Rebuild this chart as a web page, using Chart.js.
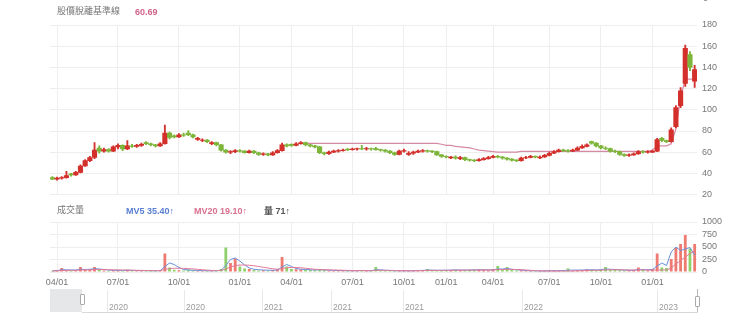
<!DOCTYPE html>
<html lang="zh-Hant">
<head>
<meta charset="utf-8">
<title>股價與成交量</title>
<script src="https://cdn.jsdelivr.net/npm/chart.js@4.4.1/dist/chart.umd.min.js"></script>
<style>
  html, body { margin: 0; padding: 0; background: #fff; }
  #wrap {
    position: relative; width: 740px; height: 323px; overflow: hidden;
    font-family: 'Liberation Sans', Arial, 'Noto Sans CJK TC', sans-serif;
  }
  canvas { position: absolute; left: 0; }
  #price { top: 0; }
  #volume { top: 210px; }
  .lbl { position: absolute; font-size: 9px; line-height: 10px; white-space: nowrap; }
  .cjk { font-family: 'Noto Sans CJK TC', sans-serif; color: #777; }
  .nav-shade { position: absolute; left: 50px; top: 289px; width: 32px; height: 23px; background: #e6e7e9; }
  .nav-base { position: absolute; left: 82px; top: 312px; width: 616px; height: 1px; background: #d8d8d8; }
  .nav-line { position: absolute; top: 290px; width: 1px; height: 22px; background: #e8e8e8; }
  .nav-year { position: absolute; top: 302px; font-size: 8.5px; line-height: 10px; color: #9a9a9a; }
  .handle { position: absolute; width: 3px; height: 9px; background: #fff; border: 1px solid #aaa; border-radius: 1px; }
</style>
</head>
<body>
<div id="wrap">
  <canvas id="price" width="740" height="205"></canvas>
  <canvas id="volume" width="740" height="80"></canvas>

  <div class="lbl" style="left:703px; top:-7px; color:#777;">0</div>
  <div class="lbl cjk" style="left:57px; top:6px;">股價脫離基準線</div>
  <div class="lbl" style="left:135px; top:7px; color:#d2648c; font-weight:bold;">60.69</div>

  <div class="lbl cjk" style="left:57px; top:205px;">成交量</div>
  <div class="lbl" style="left:126px; top:206px; color:#5a7fd2; font-weight:bold;">MV5 35.40↑</div>
  <div class="lbl" style="left:194px; top:206px; color:#d9708f; font-weight:bold;">MV20 19.10↑</div>
  <div class="lbl" style="left:264px; top:206px; color:#555; font-weight:bold;"><span class="cjk" style="color:#555;">量</span> 71↑</div>

  <div id="nav"></div>
</div>

<script>
// weekly bars, some weeks missing (no trading)
const dates = [
  '2020/03/25',
  '2020/04/01','2020/04/08','2020/04/15','2020/04/22','2020/04/29','2020/05/06','2020/05/13','2020/05/20','2020/05/27','2020/06/03','2020/06/10','2020/06/17','2020/06/24',
  '2020/07/01','2020/07/08','2020/07/15','2020/07/22','2020/07/29','2020/08/05','2020/08/12','2020/08/19','2020/08/26','2020/09/02','2020/09/09','2020/09/16','2020/09/23',
  '2020/10/01','2020/10/08','2020/10/15','2020/10/22','2020/10/29','2020/11/05','2020/11/12','2020/11/19','2020/11/26','2020/12/03','2020/12/10','2020/12/17','2020/12/24',
  '2021/01/01','2021/01/08','2021/01/15','2021/01/22','2021/01/29','2021/02/19','2021/02/26','2021/03/05','2021/03/12','2021/03/19','2021/03/26',
  '2021/04/01','2021/04/08','2021/04/15','2021/04/22','2021/04/29','2021/05/06','2021/05/13','2021/05/20','2021/05/27','2021/06/03','2021/06/10','2021/06/17','2021/06/24',
  '2021/07/01','2021/07/08','2021/07/15','2021/07/22','2021/07/29','2021/08/05','2021/08/12','2021/08/19','2021/08/26','2021/09/02','2021/09/23',
  '2021/10/01','2021/10/08','2021/10/15','2021/10/22','2021/11/19','2021/11/26','2021/12/03','2021/12/10','2021/12/17',
  '2022/01/01','2022/01/08','2022/01/15','2022/01/22','2022/02/12','2022/02/19','2022/02/26','2022/03/05','2022/03/12','2022/03/19',
  '2022/04/01','2022/04/08','2022/04/15','2022/04/22','2022/04/29','2022/05/06','2022/05/13','2022/05/20','2022/05/27','2022/06/03','2022/06/10','2022/06/17',
  '2022/07/01','2022/07/08','2022/07/15','2022/07/22','2022/07/29','2022/08/05','2022/08/12','2022/08/19','2022/08/26','2022/09/02','2022/09/09',
  '2022/10/01','2022/10/08','2022/10/15','2022/10/22','2022/10/29','2022/11/05','2022/11/12','2022/11/19','2022/11/26','2022/12/03','2022/12/10',
  '2023/01/01','2023/01/08','2023/01/15','2023/01/22','2023/01/29','2023/02/05','2023/02/12','2023/02/19','2023/02/26','2023/03/05'
];

const open = [
  36, 34.5, 35.5, 36, 39.5, 38.5, 41, 47, 52, 55,
  64, 61, 62.5, 61, 65, 66.5, 63, 66, 65.5, 66.5,
  69, 68, 67, 66, 68, 78, 75.5, 74.5, 76.5, 78,
  76.5, 72, 71, 71.5, 68, 69, 67, 62, 60, 60.5,
  61.5, 61, 59.5, 61, 59.5, 58, 58.5, 57.5, 59.5, 61.5,
  67, 67.5, 66.5, 68, 69, 67, 66, 65, 59.5, 58.5,
  60, 61, 61.5, 63, 62.5, 63, 63.5, 63, 63.5, 63.5,
  62.5, 62, 61, 59.5, 58, 61, 58, 59, 60, 61,
  61.5, 61, 60.5, 57.5, 56, 54.5, 55.5, 54, 55, 53,
  52.5, 52, 53, 54, 55, 56, 55.5, 54.5, 53.5, 52.5,
  52, 54.5, 55, 56, 54.5, 55.5, 57, 59, 60.5, 62,
  61.5, 61, 62, 64, 65.5, 70, 68.5, 66, 64, 63.5,
  61, 60.5, 58, 57, 57.5, 58.5, 60.5, 60, 60, 61,
  73, 71, 70, 84, 104, 125, 152, 127
];
const high = [
  37, 36.5, 37, 42, 40, 42, 48, 53, 56, 69,
  66, 64, 63.5, 66, 68, 67, 71, 67.5, 67.5, 68.5,
  70, 68.5, 67.5, 69, 85.5, 79, 76.5, 77.5, 78, 80.5,
  77, 74, 72.5, 72, 70, 69.5, 67.5, 62.5, 61.5, 62.5,
  62.5, 61.5, 62, 61.5, 60, 59.5, 59, 60.5, 62.5, 68.5,
  68, 68, 69, 70, 69.5, 67.5, 66.5, 65.5, 60, 61,
  62, 62.5, 63, 63.5, 64, 64, 66.5, 64.5, 64, 64.5,
  63, 62.5, 61.5, 60, 62, 63, 60.5, 61, 62, 62.5,
  62, 61.5, 61, 58, 56.5, 56, 56.5, 56, 55.5, 53.5,
  53, 54, 55, 56, 57, 57, 56, 55, 54, 53,
  55.5, 56, 57, 56.5, 56.5, 58, 60, 61.5, 63, 63,
  62.5, 63, 65, 67, 68, 70.5, 69, 66.5, 65, 64,
  62, 61, 58.5, 58.5, 59.5, 61.5, 61.5, 61.5, 62, 73,
  74, 71.5, 83, 104, 121, 161, 155, 142
];
const low = [
  34, 33.5, 34.5, 35.5, 37.5, 38, 40.5, 46.5, 51, 54,
  59, 60, 60, 60.5, 63, 61.5, 62.5, 64.5, 64.5, 65.5,
  67, 66, 65, 65.5, 67.5, 72.5, 73.5, 74, 75, 75.5,
  73.5, 71, 70, 69, 67, 66, 61, 59, 58.5, 59.5,
  60, 59, 59, 58.5, 57, 57, 56.5, 57, 59, 61,
  65, 65.5, 66, 67.5, 66, 65, 64, 58.5, 57.5, 58,
  59.5, 60, 61, 61.5, 62, 62, 62.5, 62, 62, 62,
  61, 60, 58.5, 57, 57.5, 60, 57, 58, 59.5, 60,
  60, 59.5, 57, 55, 54.5, 54, 53.5, 53, 52, 51.5,
  51, 51.5, 52.5, 53.5, 54.5, 54.5, 53.5, 52.5, 51.5, 51,
  51.5, 54, 54.5, 54.5, 54, 55, 56.5, 58.5, 60, 60.5,
  60, 60.5, 61.5, 63.5, 65, 67.5, 65, 63, 62.5, 60,
  59.5, 57, 56, 56, 57, 58, 59, 59, 59.5, 60.5,
  70, 69, 69.5, 83, 102, 122, 137, 121
];
const close = [
  34.5, 35.5, 36, 38, 38.5, 41, 47, 52, 55, 62,
  61, 62.5, 61, 65, 66.5, 63, 66, 65.5, 66.5, 67.5,
  68, 67, 66, 68, 78, 74, 74.5, 76.5, 76, 76.5,
  74.5, 73, 71.5, 70, 69, 67, 62, 60, 60.5, 61.5,
  61, 59.5, 61, 59.5, 58, 58.5, 57.5, 59.5, 61.5, 67,
  66, 66.5, 68, 69, 67, 66, 65, 59.5, 58.5, 60,
  61, 61.5, 62, 62.5, 63, 63.5, 63, 63.5, 63, 62.5,
  62, 61, 59.5, 58, 61, 61.5, 59, 60, 61, 61.5,
  61, 60.5, 57.5, 56, 55.5, 55.5, 54.5, 55, 53, 52.5,
  52, 53, 54, 55, 56, 55.5, 54.5, 53.5, 52.5, 52,
  54.5, 55, 56, 55.5, 55.5, 57, 59, 60.5, 62, 61.5,
  61, 62, 64, 65.5, 67, 68.5, 66, 64, 63.5, 61,
  60.5, 58, 57, 57.5, 58.5, 60.5, 60, 60.5, 61, 72,
  71, 70, 81, 102, 118, 158, 140, 138
];

// 股價脫離基準線, starts on 2021/04/22
const baselineStart = '2021/04/22';
const baseline = [
  68.4, 68.4, 68.4, 68.4, 68.4, 68.4, 68.4, 68.4, 68.4, 68.4,
  68.4, 68.4, 68.4, 68.4, 68.4, 68.4, 68.4, 68.4, 68.4, 68.4,
  68.4, 68.4, 68.4, 68.4, 68.4, 68.4, 68.4, 68.4, 68.4,
  67.5, 66.5, 66.5, 65.5, 65, 64.5, 64, 63, 62, 61.5, 61, 60.5, 60,
  60, 60, 60, 60,
  60.69, 60.69, 60.69, 60.69, 60.69, 60.69, 60.69, 60.69, 60.69, 60.69,
  60.69, 60.69, 60.69, 60.69, 60.69, 60.69, 60.69, 60.69, 60.69, 60.69,
  60.69, 60.69, 60.69, 60.69, 60.69, 60.69, 60.69, 60.69,
  62, 66, 66, 66, 68, 82, 112, 129, 129, 129
];

const volume = [
  20, 25, 80, 30, 25, 35, 100, 40, 50, 100,
  55, 30, 25, 35, 30, 25, 45, 30, 20, 25,
  30, 20, 25, 35, 370, 90, 45, 35, 30, 50,
  30, 25, 20, 25, 20, 25, 60, 490, 180, 270,
  110, 70, 60, 40, 30, 35, 25, 40, 60, 300,
  110, 60, 55, 50, 45, 40, 35, 60, 40, 30,
  25, 30, 25, 20, 25, 20, 40, 25, 20, 100,
  30, 20, 25, 20, 30, 25, 20, 25, 40, 30,
  60, 25, 30, 35, 30, 40, 45, 35, 30, 40,
  45, 50, 40, 35, 45, 120, 50, 100, 40, 30,
  35, 25, 20, 25, 20, 25, 30, 25, 30, 35,
  71, 30, 35, 40, 55, 45, 35, 50, 100, 45,
  40, 35, 30, 35, 40, 90, 40, 35, 60, 370,
  90, 80, 260, 480, 560, 740, 470, 560
];
const mv5 = [
  25, 28, 45, 45, 40, 40, 55, 50, 55, 65,
  60, 50, 40, 35, 32, 30, 35, 32, 30, 28,
  28, 25, 25, 28, 110, 180, 150, 90, 50, 40,
  35, 30, 28, 25, 25, 25, 35, 130, 250, 280,
  220, 140, 80, 55, 45, 40, 35, 35, 40, 100,
  150, 110, 70, 55, 50, 45, 40, 45, 42, 38,
  32, 30, 28, 25, 25, 25, 30, 28, 25, 45,
  45, 35, 30, 25, 25, 25, 25, 25, 30, 32,
  40, 38, 35, 35, 35, 38, 42, 40, 38, 40,
  42, 45, 45, 42, 42, 60, 60, 70, 55, 45,
  38, 30, 25, 25, 22, 22, 25, 26, 28, 30,
  35.4, 38, 38, 40, 42, 45, 42, 45, 60, 55,
  50, 45, 40, 35, 35, 50, 48, 45, 50, 120,
  180, 130, 400, 500, 430, 460, 490, 340
];
const mv20 = [
  22, 24, 30, 32, 33, 34, 40, 42, 44, 48,
  50, 48, 46, 44, 42, 40, 38, 36, 34, 32,
  30, 29, 28, 28, 50, 70, 75, 75, 72, 68,
  62, 55, 45, 38, 32, 30, 32, 60, 100, 130,
  140, 140, 135, 125, 110, 95, 80, 65, 55, 70,
  85, 90, 90, 85, 75, 65, 55, 50, 45, 42,
  40, 38, 35, 32, 30, 28, 28, 27, 26, 32,
  34, 34, 33, 30, 28, 26, 25, 25, 26, 27,
  30, 31, 32, 33, 34, 35, 36, 37, 37, 38,
  38, 40, 41, 41, 42, 48, 50, 54, 52, 50,
  46, 40, 34, 28, 24, 22, 21, 20, 19.5, 19,
  19.1, 21, 24, 27, 30, 33, 35, 37, 42, 44,
  45, 44, 42, 40, 38, 42, 42, 40, 38, 40,
  40, 40, 80, 160, 230, 300, 370, 420
];

const priceTicks = [20, 40, 60, 80, 100, 120, 140, 160, 180];
const volumeTicks = [0, 250, 500, 750, 1000];
const quarterStarts = ['01/01', '04/01', '07/01', '10/01'];

// navigator strip under the chart
const navYears = ['2020', '2020', '2021', '2021', '2021', '2022', '2023'];
const navLineX = [107, 184, 262, 331, 403, 522, 657];

const UP = '#d3302c', DOWN = '#7db53a';
const VOL_UP = '#ee7a70', VOL_DOWN = '#8fd06a';
const GRID = '#eeeeee';
const TICK = '#777';

Chart.defaults.font.family = "'Liberation Sans', Arial, sans-serif";
Chart.defaults.font.size = 9;
Chart.defaults.animation = false;

const isUp = open.map((o, i) => close[i] >= o);
const candleColors = isUp.map(u => u ? UP : DOWN);
const volColors = isUp.map(u => u ? VOL_UP : VOL_DOWN);
const isQuarter = i => dates[i] !== undefined && quarterStarts.includes(dates[i].slice(5));

const startIdx = dates.indexOf(baselineStart);
const baselinePoints = baseline.map((v, i) => ({ x: dates[startIdx + i], y: v }));

function xAxis(showLabels) {
  return {
    offset: true,
    border: { display: false },
    grid: {
      offset: false,
      drawTicks: false,
      color: ctx => isQuarter(ctx.index) ? GRID : 'rgba(0,0,0,0)',
    },
    ticks: {
      display: showLabels,
      autoSkip: false,
      maxRotation: 0,
      minRotation: 0,
      padding: 5,
      color: TICK,
      font: { size: 9 },
      callback: (value, index) => isQuarter(index) ? dates[index].slice(5) : '',
    },
    afterFit: axis => { axis.height = showLabels ? 18 : 0; },
  };
}

function yAxis(min, max, values) {
  return {
    position: 'right',
    min, max,
    border: { display: false },
    grid: { color: GRID, drawTicks: false },
    ticks: { color: TICK, padding: 5, font: { size: 9 }, autoSkip: false, callback: v => String(v) },
    afterBuildTicks: axis => { axis.ticks = values.map(v => ({ value: v })); },
    afterFit: axis => { axis.width = 43; },
  };
}

new Chart(document.getElementById('price'), {
  type: 'bar',
  data: {
    labels: dates,
    datasets: [
      {
        type: 'line',
        data: baselinePoints,
        borderColor: '#d58aa6',
        borderWidth: 1.2,
        pointRadius: 0,
        tension: 0,
        order: 3,
      },
      {
        data: low.map((l, i) => [l, high[i]]),
        backgroundColor: candleColors,
        barThickness: 1.2,
        grouped: false,
        order: 2,
      },
      {
        data: open.map((o, i) => [o, close[i]]),
        backgroundColor: candleColors,
        barThickness: 4.5,
        grouped: false,
        order: 1,
      },
    ],
  },
  options: {
    responsive: false,
    layout: { padding: { left: 50, right: 0, top: 25, bottom: 8 } },
    plugins: { legend: { display: false }, tooltip: { enabled: false } },
    scales: {
      x: xAxis(false),
      y: yAxis(20, 180, priceTicks),
    },
  },
});

new Chart(document.getElementById('volume'), {
  type: 'bar',
  data: {
    labels: dates,
    datasets: [
      { type: 'line', data: mv5, borderColor: '#6a8edb', borderWidth: 1, pointRadius: 0, order: 1 },
      { type: 'line', data: mv20, borderColor: '#e07a98', borderWidth: 1, pointRadius: 0, order: 0 },
      {
        data: volume,
        backgroundColor: volColors,
        barPercentage: 0.6,
        categoryPercentage: 1,
        order: 2,
      },
    ],
  },
  options: {
    responsive: false,
    layout: { padding: { left: 50, right: 0, top: 12, bottom: 0 } },
    plugins: { legend: { display: false }, tooltip: { enabled: false } },
    scales: {
      x: xAxis(true),
      y: yAxis(0, 1000, volumeTicks),
    },
  },
});

// navigator: range shade, handles, year separators
const nav = document.getElementById('nav');
nav.innerHTML =
  '<div class="nav-shade"></div><div class="nav-base"></div>' +
  '<div class="handle" style="left:80px; top:294px;"></div>' +
  '<div class="nav-line" style="left:697px; top:289px; height:23px; background:#bbb;"></div>' +
  '<div class="handle" style="left:695px; top:296px;"></div>' +
  navYears.map((y, i) =>
    `<div class="nav-line" style="left:${navLineX[i]}px;"></div>` +
    `<div class="nav-year" style="left:${navLineX[i] + 2}px;">${y}</div>`
  ).join('');
</script>
</body>
</html>
